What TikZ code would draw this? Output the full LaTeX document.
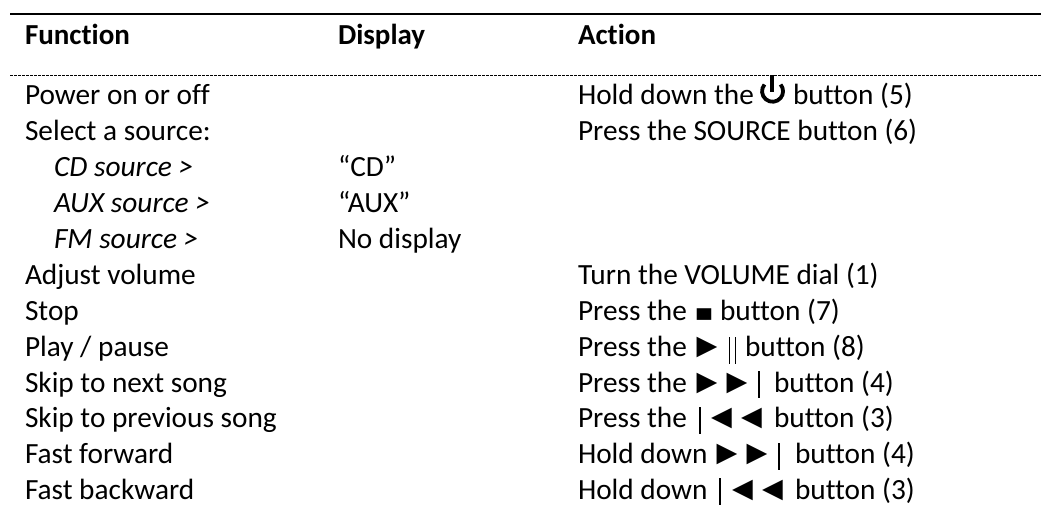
\documentclass[tikz,border=0pt]{standalone}
\usepackage{fontspec}
\setmainfont[Ligatures=NoCommon,RawFeature={-liga;-clig}]{Carlito}
\newfontfamily\symfont{DejaVu Sans}
\begin{document}
\begin{tikzpicture}[x=1pt,y=-1pt,
  cell/.style={anchor=base west,inner sep=0pt,outer sep=0pt,font=\fontsize{29.3}{35}\selectfont},
  head/.style={cell,font=\fontsize{29}{35}\selectfont\bfseries},
  sub/.style={cell,font=\fontsize{29.4}{35}\selectfont\itshape},
  symb/.style={anchor=base west,inner sep=0pt,outer sep=0pt,font=\symfont\fontsize{27}{27}\selectfont},
  stopsym/.style={symb,font=\symfont\fontsize{19}{19}\selectfont},
  toprule/.style={line width=2pt,black},
  midrule/.style={line width=0.8pt,black,dash pattern=on 3pt off 1pt},
  glyphbar/.style={line width=1.5pt,black}]
\useasboundingbox (0,0) rectangle (1041,523);
\coordinate (tl) at (10,14); \coordinate (tr) at (1041,14);
\coordinate (ml) at (10,75); \coordinate (mr) at (1041,75);
\draw[toprule] (tl) -- (tr);
\draw[midrule] (ml) -- (mr);
\node[head] (h1) at (25,44) {Function};
\node[head] (h2) at (338,44) {Display};
\node[head] (h3) at (578,44) {Action};
\node[cell] (f1) at (25,104) {Power on or off};
\node[cell] (f2) at (25,140) {Select a source:};
\node[sub] (f3) at (54,176.5) {CD source >};
\node[sub] (f4) at (54,212) {AUX source >};
\node[sub] (f5) at (54,248) {FM source >};
\node[cell] (f6) at (25,284) {Adjust volume};
\node[cell] (f7) at (25,320) {Stop};
\node[cell] (f8) at (25,356) {Play / pause};
\node[cell] (f9) at (25,392) {Skip to next song};
\node[cell] (f10) at (25,427.5) {Skip to previous song};
\node[cell] (f11) at (25,463.5) {Fast forward};
\node[cell] (f12) at (25,499) {Fast backward};
\node[cell] (d3) at (338,176.5) {“CD”};
\node[cell] (d4) at (338,212) {“AUX”};
\node[cell] (d5) at (338,248) {No display};
\node[cell] (a1a) at (578,104) {Hold down the};
\node[cell] (a1b) at (793,104) {button (5)};
\draw[line width=3.8pt,black] (764.5,84.5) arc (220:-40:10.5);
\draw[line width=3.8pt,black] (772,75) -- (772,92);
\node[cell] (a2) at (578,140) {Press the SOURCE button (6)};
\node[cell] (a6) at (578,284) {Turn the VOLUME dial (1)};
\node[cell] (a7) at (578,320) {Press the};
\node[stopsym] (s7) at (695,318.5) {\scalebox{1}[0.8]{■}};
\node[cell] (a7b) at (720,320) {button (7)};
\node[cell] (a8) at (578,356) {Press the};
\node[symb] (p8) at (696.5,354) {▶};
\node[cell] (a8b) at (745,356) {button (8)};
\draw[glyphbar] (729.5,337) -- (729.5,364);
\draw[glyphbar] (735.5,337) -- (735.5,364);
\node[cell] (a9) at (578,392) {Press the};
\node[symb] (p9a) at (696.5,390) {▶};
\node[symb] (p9b) at (726.5,390) {▶};
\draw[glyphbar] (759,371) -- (759,398);
\node[cell] (a9b) at (774,392) {button (4)};
\node[cell] (a10) at (578,427.5) {Press the};
\draw[glyphbar] (700,407) -- (700,434);
\node[symb] (p10a) at (711,425.5) {◀};
\node[symb] (p10b) at (741,425.5) {◀};
\node[cell] (a10b) at (774,427.5) {button (3)};
\node[cell] (a11) at (578,463.5) {Hold down};
\node[symb] (p11a) at (716.5,461.5) {▶};
\node[symb] (p11b) at (746.5,461.5) {▶};
\draw[glyphbar] (779,443) -- (779,470);
\node[cell] (a11b) at (795,463.5) {button (4)};
\node[cell] (a12) at (578,499) {Hold down};
\draw[glyphbar] (720,478) -- (720,505);
\node[symb] (p12a) at (732,497) {◀};
\node[symb] (p12b) at (762,497) {◀};
\node[cell] (a12b) at (795,499) {button (3)};
\end{tikzpicture}
\end{document}
